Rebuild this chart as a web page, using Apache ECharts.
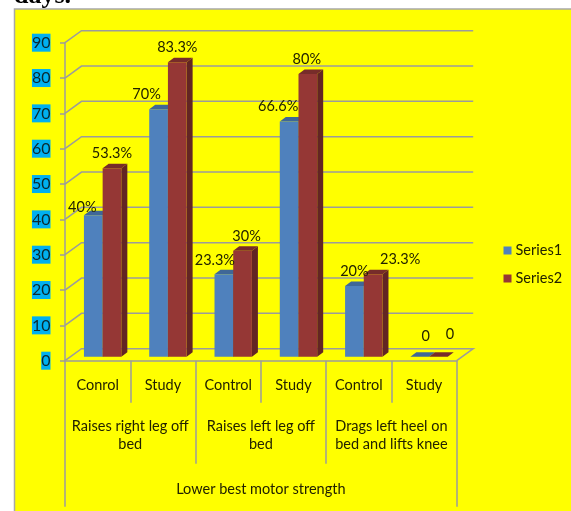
<!DOCTYPE html>
<html>
<head>
<meta charset="utf-8">
<style>html,body{margin:0;padding:0;background:#fff;overflow:hidden}#chart{width:571px;height:511px}</style>
<script src="https://cdn.jsdelivr.net/npm/echarts@6/dist/echarts.min.js"></script>
</head>
<body>
<div id="chart"></div>
<script>
// Chart values
const categories = ['Conrol', 'Study', 'Control', 'Study', 'Control', 'Study'];
const groups = ['Raises right leg off\nbed', 'Raises left leg off\nbed', 'Drags left heel on\nbed and lifts knee'];
const outerGroup = ['Lower best motor strength'];
const series1 = [40, 70, 23.3, 66.6, 20, 0];
const series2 = [53.3, 83.3, 30, 80, 23.3, 0];
const yTicks = [0, 10, 20, 30, 40, 50, 60, 70, 80, 90];

// Hand placement of the value labels, relative to each bar's top centre
const nudge1 = [[-11, -8], [-12, -15], [-9, -14], [-11, -15], [0, -15], [6, -20]];
const nudge2 = [[0, -15], [0, -15], [4, -14.5], [-1, -15], [27, -15], [11.5, -22]];

// Oblique projection used for the walls and the bar solids
const wallDx = 16.5, wallDy = -12;
const barInsetX = 5, barInsetY = -4;
const barDepthX = 6, barDepthY = -4.5;
const barWidth = 18.7;
const lineColor = '#9c9c9c';
const textColor = '#222200';

const palette = {
  Series1: { front: '#4f81bd', top: '#3f6797', side: '#2f4d71' },
  Series2: { front: '#953735', top: '#772c2a', side: '#632523' }
};

function fmt(v) { return v === 0 ? '0' : v + '%'; }

function wallItem(params, api) {
  const cs = params.coordSys;
  const y = api.coord([0, api.value(0)])[1];
  const x0 = cs.x, x1 = cs.x + cs.width;
  const points = [[x0, y], [x0 + wallDx, y + wallDy], [x1 + wallDx, y + wallDy]];
  if (api.value(0) === 0) points.push([x1, y]);
  return {
    type: 'polyline',
    shape: { points },
    style: { stroke: lineColor, lineWidth: 1.5, fill: null }
  };
}

function barFrame(api, shift) {
  const i = api.value(0), v = api.value(1);
  const base = api.coord([i, 0]);
  const top = api.coord([i, v]);
  const xl = base[0] + barInsetX + shift;
  return { v, xl, xr: xl + barWidth, yb: base[1] + barInsetY, yt: top[1] + barInsetY };
}

function barRenderer(name, shift) {
  const c = palette[name];
  return function (params, api) {
    const { xl, xr, yb, yt } = barFrame(api, shift);
    const dx = barDepthX, dy = barDepthY;
    const poly = (points, fill) => ({ type: 'polygon', shape: { points }, style: { fill } });
    return {
      type: 'group',
      children: [
        poly([[xr, yb], [xr + dx, yb + dy], [xr + dx, yt + dy], [xr, yt]], c.side),
        poly([[xl, yt], [xr, yt], [xr + dx, yt + dy], [xl + dx, yt + dy]], c.top),
        poly([[xl, yt], [xr, yt], [xr, yb], [xl, yb]], c.front)
      ]
    };
  };
}

function labelRenderer(shift, nudges) {
  return function (params, api) {
    const { v, xl, xr, yt } = barFrame(api, shift);
    const n = nudges[params.dataIndex];
    return {
      type: 'text',
      style: {
        x: (xl + xr) / 2 + n[0],
        y: yt + n[1],
        text: fmt(v),
        fill: textColor,
        font: '14.5px Lato',
        align: 'center',
        verticalAlign: 'middle'
      }
    };
  };
}

const chart = echarts.init(document.getElementById('chart'), null, { renderer: 'canvas' });
const axisCommon = {
  type: 'category',
  position: 'bottom',
  axisLine: { show: false },
  axisLabel: { interval: 0, color: textColor, fontFamily: 'Lato', fontSize: 14.5, lineHeight: 18 }
};
const tickStyle = { color: lineColor, width: 1.5 };

chart.setOption({
  animation: false,
  backgroundColor: '#ffffff',
  graphic: [
    { type: 'rect', z: -10, shape: { x: 14.5, y: 9, width: 570, height: 520 },
      style: { fill: '#ffff00', stroke: '#a8a8a8', lineWidth: 1.5 } },
    { type: 'text', z: -9, x: 14, y: -17,
      style: { text: 'days.', fill: '#000', font: 'bold 26px "Liberation Serif"' } }
  ],
  grid: { left: 65, top: 42.7, width: 391.7, height: 318 },
  legend: {
    left: 498.5, top: 237, orient: 'vertical', itemWidth: 8, itemHeight: 8, itemGap: 11,
    icon: 'rect', data: ['Series1', 'Series2'],
    textStyle: { color: textColor, fontFamily: 'Lato', fontSize: 14.5, lineHeight: 17, padding: [0, 0, 0, -1] }
  },
  xAxis: [
    Object.assign({}, axisCommon, {
      data: categories,
      axisLine: { show: true, lineStyle: tickStyle },
      axisTick: { show: true, interval: 0, length: 42, lineStyle: tickStyle },
      axisLabel: Object.assign({}, axisCommon.axisLabel, { margin: 16 })
    }),
    Object.assign({}, axisCommon, {
      data: groups,
      axisTick: { show: true, interval: 0, length: 103, lineStyle: tickStyle },
      axisLabel: Object.assign({}, axisCommon.axisLabel, { margin: 57 })
    }),
    Object.assign({}, axisCommon, {
      data: outerGroup,
      axisTick: { show: true, interval: 0, length: 146, lineStyle: tickStyle },
      axisLabel: Object.assign({}, axisCommon.axisLabel, { margin: 120 })
    })
  ],
  yAxis: {
    type: 'value', min: 0, max: 90, interval: 10,
    axisLine: { show: true, lineStyle: tickStyle },
    axisTick: { show: true, length: 5, lineStyle: tickStyle },
    splitLine: { show: false },
    axisLabel: {
      margin: 14.5, color: '#0a2a30', fontFamily: 'Lato', fontSize: 16,
      backgroundColor: '#00b0f0', padding: [1, 0, 1, 0],
      customValues: yTicks
    }
  },
  series: [
    {
      type: 'custom', name: 'walls', silent: true, clip: false, z: 1,
      coordinateSystem: 'cartesian2d',
      data: yTicks.map(v => [v]),
      encode: { y: 0 },
      renderItem: wallItem
    },
    {
      type: 'custom', name: 'Series1', clip: false, z: 2,
      itemStyle: { color: palette.Series1.front },
      data: series1.map((v, i) => [i, v]),
      encode: { x: 0, y: 1 },
      renderItem: barRenderer('Series1', -barWidth)
    },
    {
      type: 'custom', name: 'Series2', clip: false, z: 3,
      itemStyle: { color: palette.Series2.front },
      data: series2.map((v, i) => [i, v]),
      encode: { x: 0, y: 1 },
      renderItem: barRenderer('Series2', 0)
    },
    {
      type: 'custom', name: 'Series1 labels', silent: true, clip: false, z: 5,
      data: series1.map((v, i) => [i, v]),
      encode: { x: 0, y: 1 },
      renderItem: labelRenderer(-barWidth, nudge1)
    },
    {
      type: 'custom', name: 'Series2 labels', silent: true, clip: false, z: 5,
      data: series2.map((v, i) => [i, v]),
      encode: { x: 0, y: 1 },
      renderItem: labelRenderer(0, nudge2)
    }
  ]
});
</script>
</body>
</html>
